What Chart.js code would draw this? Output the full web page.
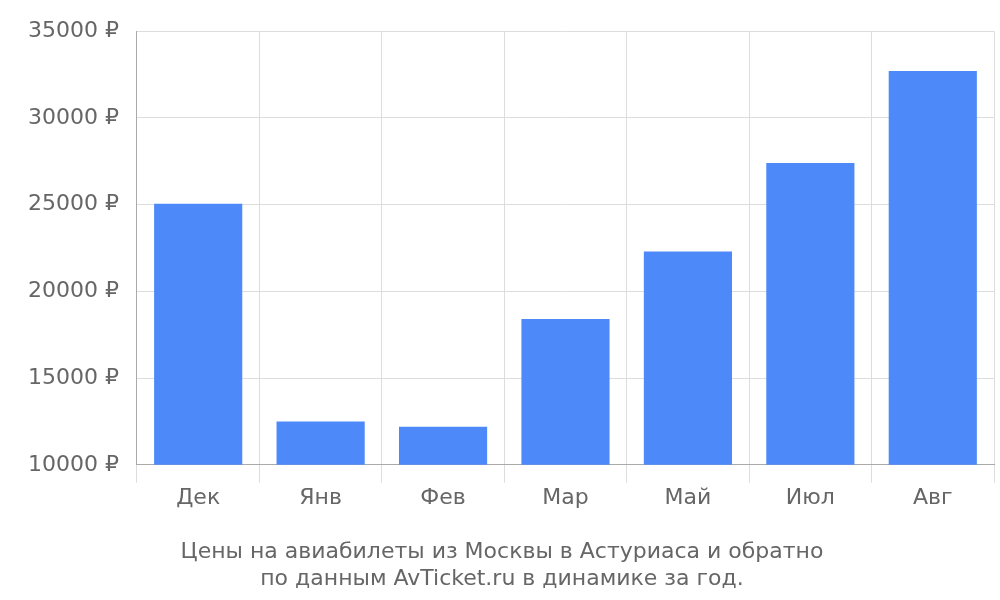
<!DOCTYPE html>
<html><head><meta charset="utf-8">
<script src="https://cdn.jsdelivr.net/npm/chart.js@4"></script>
<style>html,body{margin:0;padding:0;background:#fff}#w{width:1000px;height:600px}</style>
</head><body><div id="w"><canvas id="c"></canvas></div>
<script>
const categories = ["Дек","Янв","Фев","Мар","Май","Июл","Авг"];
const prices = [25050, 12500, 12200, 18400, 22300, 27400, 32700];
const titleLines = ["Цены на авиабилеты из Москвы в Астуриаса и обратно","по данным AvTicket.ru в динамике за год."];
Chart.defaults.font.family = "DejaVu Sans";
Chart.defaults.font.size = 22;
Chart.defaults.color = "#666";
new Chart(document.getElementById("c"), {
  type: "bar",
  data: { labels: categories, datasets: [{ data: prices, backgroundColor: "#4d89f9", barPercentage: 0.9, categoryPercentage: 0.8 }] },
  options: {
    responsive: true, maintainAspectRatio: false, animation: false,
    layout: { padding: { right: 6, top: 2, left: 10 } },
    plugins: {
      legend: { display: false }, tooltip: { enabled: false },
      title: { display: true, position: "bottom", text: titleLines, font: { size: 22, weight: "normal" }, color: "#666", padding: { top: 26, bottom: 8 }, lineHeight: 1.3 }
    },
    scales: {
      x: { grid: { color: "#ddd", offset: true, tickLength: 18 }, border: { color: "#aaa" }, ticks: { padding: 2 } },
      y: { min: 10000, max: 35000, ticks: { stepSize: 5000, callback: v => v + " ₽", padding: 18 }, grid: { color: "#ddd", drawTicks: false }, border: { color: "#aaa" } }
    }
  }
});
</script></body></html>
